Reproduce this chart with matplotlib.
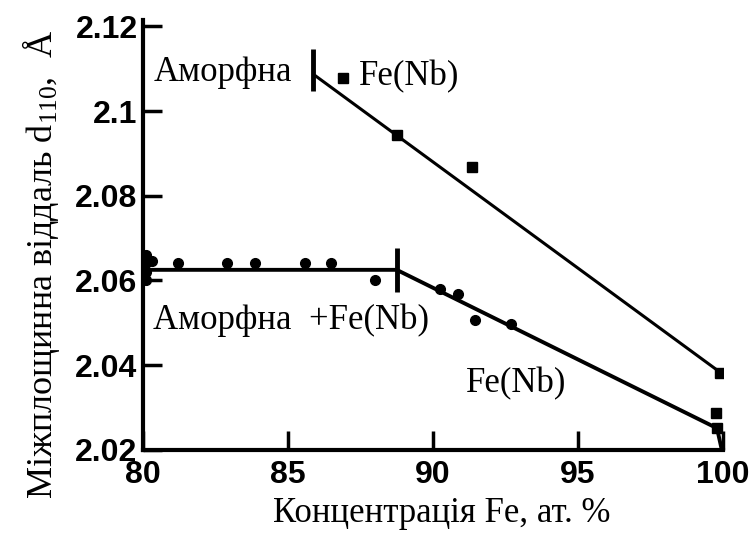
import numpy as np
import matplotlib
matplotlib.use("Agg")
import matplotlib.pyplot as plt

plt.rcParams['mathtext.fontset'] = 'custom'
plt.rcParams['mathtext.rm'] = 'Liberation Serif'
plt.rcParams['mathtext.it'] = 'Liberation Serif'

SERIF = ['Liberation Serif', 'DejaVu Serif']
SANS = ['Liberation Sans', 'DejaVu Sans']

# Fe(Nb), однофазна область
fe_x = [86.9, 88.75, 91.35, 99.9]
fe_y = [2.1079, 2.0944, 2.0867, 2.0381]

# аморфна + Fe(Nb), плато
plateau_x = [80.1, 80.1, 80.1, 80.1, 80.3, 81.2, 82.9, 83.85, 85.6, 86.5, 88.0]
plateau_y = [2.066, 2.064, 2.062, 2.060, 2.0645, 2.0642, 2.0642, 2.0642, 2.0642, 2.0642, 2.060]

# Fe(Nb) після межі фаз
slope_x = [90.25, 90.85, 91.45, 92.7, 99.75, 99.8]
slope_y = [2.0579, 2.0567, 2.0507, 2.0498, 2.0288, 2.0252]

# лінії апроксимації
upper_fit_x = [85.93, 99.95]
upper_fit_y = [2.1084, 2.0381]
lower_fit_x = [80.0, 88.75, 99.8, 99.95]
lower_fit_y = [2.0625, 2.0625, 2.0251, 2.0205]

# межі фаз (вертикальні риски)
bound_x = [85.86, 88.77]
bound_lo = [2.1047, 2.0572]
bound_hi = [2.1147, 2.0677]

xticks = [80, 85, 90, 95, 100]
yticks = [2.02, 2.04, 2.06, 2.08, 2.1, 2.12]
ytick_labels = ['2.02', '2.04', '2.06', '2.08', '2.1', '2.12']

fig = plt.figure(figsize=(7.49, 5.40), dpi=100)
ax = fig.add_axes([0.191, 0.167, 0.774, 0.796])

ax.plot(upper_fit_x, upper_fit_y, color='black', lw=2.2, solid_capstyle='round')
ax.plot(lower_fit_x, lower_fit_y, color='black', lw=2.8, solid_capstyle='round')
ax.vlines(bound_x, bound_lo, bound_hi, color='black', lw=3.5)

ax.plot(fe_x, fe_y, 's', color='black', ms=6.5)
ax.plot(plateau_x, plateau_y, 'o', color='black', ms=7)
ax.plot(slope_x[:4], slope_y[:4], 'o', color='black', ms=7)
ax.plot(slope_x[4:], slope_y[4:], 's', color='black', ms=6.5)

ax.text(80.35, 2.1092, 'Аморфна', family=SERIF, fontsize=25, va='center')
ax.text(87.45, 2.1080, 'Fe(Nb)', family=SERIF, fontsize=25, va='center')
ax.text(80.35, 2.0505, 'Аморфна  +Fe(Nb)', family=SERIF, fontsize=25, va='center')
ax.text(91.15, 2.0357, 'Fe(Nb)', family=SERIF, fontsize=25, va='center')

ax.set_xlim(80, 100)
ax.set_ylim(2.02, 2.1215)
ax.set_xticks(xticks)
ax.set_yticks(yticks)
ax.set_yticklabels(ytick_labels)

for s in ['top', 'right']:
    ax.spines[s].set_visible(False)
for s in ['left', 'bottom']:
    ax.spines[s].set_linewidth(3)

ax.tick_params(direction='in', width=2.5, length=14, pad=4)
ax.tick_params(axis='x', pad=7)
for lab in ax.get_xticklabels() + ax.get_yticklabels():
    lab.set_family(SANS)
    lab.set_fontweight('bold')
    lab.set_fontsize(23)

ax.set_xlabel('Концентрація Fe, ат. %', family=SERIF, fontsize=25)
ax.set_ylabel('Міжплощинна віддаль d$_{110}$,  Å', family=SERIF, fontsize=26)
ax.xaxis.set_label_coords(0.516, -0.11)
ax.yaxis.set_label_coords(-0.14, 0.43)

fig.savefig('out.png', dpi=100)
